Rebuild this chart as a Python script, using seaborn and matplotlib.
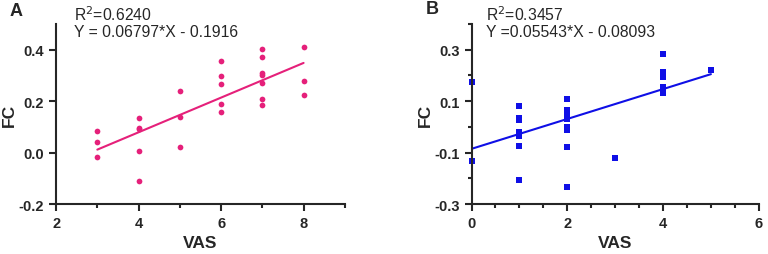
import numpy as np
import pandas as pd
import seaborn as sns
import matplotlib.pyplot as plt
from matplotlib.ticker import MultipleLocator

# Panel A data
vas_a = [3, 3, 3, 4, 4, 4, 4, 4, 5, 5, 5, 6, 6, 6, 6, 6,
         7, 7, 7, 7, 7, 7, 7, 8, 8, 8]
fc_a = [0.083, 0.040, -0.017, 0.134, 0.096, 0.091, 0.005, -0.110,
        0.239, 0.140, 0.022, 0.356, 0.297, 0.265, 0.187, 0.156,
        0.404, 0.373, 0.309, 0.303, 0.271, 0.209, 0.186,
        0.412, 0.277, 0.223]

# Panel B data
vas_b = [0, 0, 1, 1, 1, 1, 1, 1, 1, 2, 2, 2, 2, 2, 2, 2, 2,
         3, 4, 4, 4, 4, 4, 4, 4, 5]
fc_b = [0.176, -0.132, 0.081, 0.034, 0.028, -0.021, -0.035, -0.074, -0.208,
        0.109, 0.067, 0.054, 0.030, -0.002, -0.011, -0.079, -0.232,
        -0.122, 0.284, 0.213, 0.202, 0.192, 0.154, 0.144, 0.132, 0.222]

eq_a = ["R$^2$=0.6240", "Y = 0.06797*X - 0.1916"]
eq_b = ["R$^2$=0.3457", "Y =0.05543*X - 0.08093"]

pink = "#e5207a"
blue = "#0f0fe6"

df_a = pd.DataFrame({"VAS": vas_a, "FC": fc_a})
df_b = pd.DataFrame({"VAS": vas_b, "FC": fc_b})

sns.set_style("ticks")
plt.rcParams["font.family"] = ["Liberation Sans", "DejaVu Sans"]

fig = plt.figure(figsize=(7.68, 2.55), dpi=100)
ax_a = fig.add_axes([0.073, 0.196, 0.376, 0.706])
ax_b = fig.add_axes([0.614, 0.196, 0.374, 0.706])

sns.regplot(data=df_a, x="VAS", y="FC", ax=ax_a, ci=None, color=pink,
            marker="o",
            scatter_kws={"s": 17, "alpha": 1, "linewidths": 0, "clip_on": False},
            line_kws={"lw": 1.5})
sns.regplot(data=df_b, x="VAS", y="FC", ax=ax_b, ci=None, color=blue,
            marker="s",
            scatter_kws={"s": 15, "alpha": 1, "linewidths": 0, "clip_on": False},
            line_kws={"lw": 1.5})

ax_a.set_xlim(2, 9)
ax_a.set_ylim(-0.2, 0.5)
ax_a.set_xticks([2, 4, 6, 8])
ax_a.xaxis.set_minor_locator(MultipleLocator(1))
ax_a.set_yticks([-0.2, 0.0, 0.2, 0.4])
ax_a.set_yticklabels(["-0.2", "0.0", "0.2", "0.4"])

ax_b.set_xlim(0, 6)
ax_b.set_ylim(-0.3, 0.4)
ax_b.set_xticks([0, 2, 4, 6])
ax_b.xaxis.set_minor_locator(MultipleLocator(0.5))
ax_b.set_yticks([-0.3, -0.1, 0.1, 0.3])
ax_b.set_yticklabels(["-0.3", "-0.1", "0.1", "0.3"])
ax_b.yaxis.set_minor_locator(MultipleLocator(0.1))

for ax, eq, tx in [(ax_a, eq_a, 0.062), (ax_b, eq_b, 0.05)]:
    sns.despine(ax=ax)
    for s in ["left", "bottom"]:
        ax.spines[s].set_linewidth(1.5)
    ax.tick_params(which="major", length=5, width=1.5, labelsize=10.5)
    ax.tick_params(which="minor", length=3, width=1.5)
    for t in ax.get_xticklabels() + ax.get_yticklabels():
        t.set_fontweight("bold")
    ax.set_xlabel("VAS", fontsize=12.5, fontweight="bold", labelpad=4)
    ax.set_ylabel("FC", fontsize=12.5, fontweight="bold", labelpad=1)
    ax.text(tx, 1.056, eq[0], transform=ax.transAxes, fontsize=11.3, va="center")
    ax.text(tx, 0.96, eq[1], transform=ax.transAxes, fontsize=11.3, va="center")

fig.text(10 / 768, 1 - 12 / 255, "A", fontsize=13, fontweight="bold", va="center")
fig.text(426 / 768, 1 - 10 / 255, "B", fontsize=13, fontweight="bold", va="center")

plt.savefig("out.png", dpi=100)
